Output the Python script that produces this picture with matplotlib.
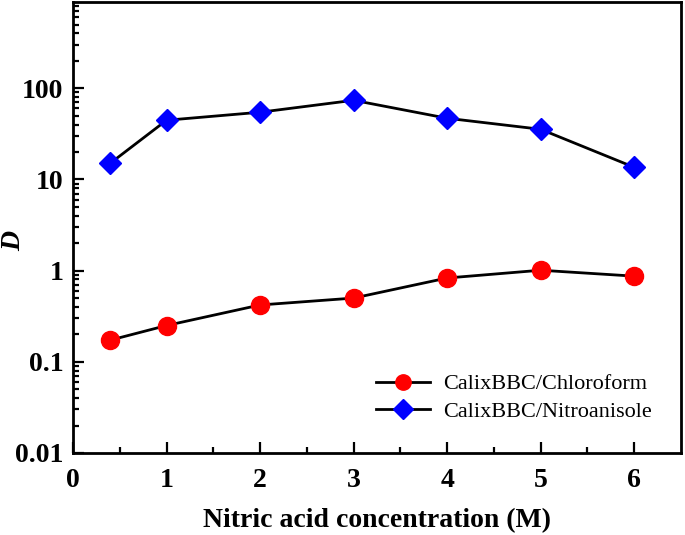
import matplotlib
matplotlib.use("Agg")
import matplotlib.pyplot as plt
from matplotlib.ticker import LogLocator, FixedLocator, NullFormatter, FuncFormatter

x_chloro = [0.4, 1, 2, 3, 4, 5, 6]
d_chloro = [0.173, 0.25, 0.42, 0.50, 0.83, 1.01, 0.87]
x_nitro = [0.4, 1, 2, 3, 4, 5, 6]
d_nitro = [15.1, 44.6, 54.6, 73.8, 46.9, 35.5, 13.6]

plt.rcParams['font.family'] = ['Liberation Serif', 'DejaVu Serif']

fig = plt.figure(figsize=(6.85, 5.35), dpi=100)
ax = fig.add_axes([0.1066, 0.1533, 0.8874, 0.8427])

ax.plot(x_chloro, d_chloro, color='black', lw=2, marker='o', ms=13,
        mfc='#ff0000', mec='#ff0000', label='CalixBBC/Chloroform')
ax.plot(x_nitro, d_nitro, color='black', lw=2, marker='D', ms=11.7,
        mfc='#0000ff', mec='#0000ff', label='CalixBBC/Nitroanisole')

ax.set_yscale('log')
ax.set_xlim(0, 6.5)
ax.set_ylim(0.01, 880)

ax.xaxis.set_major_locator(FixedLocator([0, 1, 2, 3, 4, 5, 6]))
ax.xaxis.set_minor_locator(FixedLocator([0.5, 1.5, 2.5, 3.5, 4.5, 5.5]))
ax.yaxis.set_major_locator(FixedLocator([0.01, 0.1, 1, 10, 100]))
ax.yaxis.set_minor_locator(LogLocator(base=10, subs=range(2, 10)))
ax.yaxis.set_minor_formatter(NullFormatter())

def yfmt(v, pos):
    labels = {0.01: '0.01', 0.1: '0.1', 1: '1', 10: '10', 100: '100'}
    for k, s in labels.items():
        if abs(v - k) < 1e-9 * max(k, 1):
            return s
    return ''
ax.yaxis.set_major_formatter(FuncFormatter(yfmt))

ax.tick_params(which='both', direction='in', width=1.6)
ax.tick_params(which='major', length=8, labelsize=20)
ax.tick_params(axis='y', which='major', pad=7)
ax.tick_params(axis='x', which='major', pad=11)
ax.tick_params(which='minor', length=4.5)
ax.tick_params(top=False, right=False)
for lab in ax.get_xticklabels() + ax.get_yticklabels():
    lab.set_fontweight('bold')
for sp in ax.spines.values():
    sp.set_linewidth(2)

ax.set_xlabel('Nitric acid concentration (M)', fontsize=20, fontweight='bold', labelpad=11)
ax.set_ylabel('D', fontsize=20, fontweight='bold', fontstyle='italic')
ax.yaxis.set_label_coords(-0.077, 0.47)

leg = ax.legend(loc='lower right', bbox_to_anchor=(0.985, 0.025), frameon=False,
                fontsize=16, handlelength=2.4, markerscale=0.85, labelspacing=0.3,
                handletextpad=0.6)

fig.savefig('out.png', dpi=100)
